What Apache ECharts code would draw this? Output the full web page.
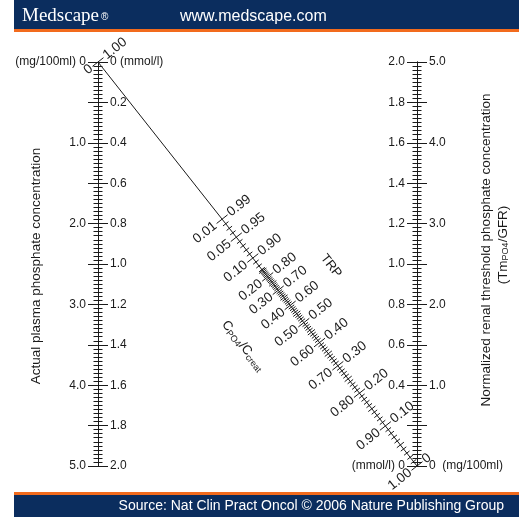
<!DOCTYPE html>
<html><head><meta charset="utf-8">
<script src="https://cdn.jsdelivr.net/npm/echarts@6/dist/echarts.min.js"></script>
<style>html,body{margin:0;padding:0;background:#fff}#c{width:519px;height:517px}</style>
</head><body><div id="c"></div>
<script>
// ---- Vertical scales (mmol/l along the axis; mg/100ml = mmol/l x 2.5) ----
const scaleMax = 2.0;
const majorStep = 0.2;
const minorSplit = 10;
const leftMmolLabels  = ['0 (mmol/l)','0.2','0.4','0.6','0.8','1.0','1.2','1.4','1.6','1.8','2.0'];
const leftMgLabels    = ['(mg/100ml) 0','','1.0','','2.0','','3.0','','4.0','','5.0'];
const rightMmolLabels = ['(mmol/l) 0','','0.4','0.6','0.8','1.0','1.2','1.4','1.6','1.8','2.0'];
const rightMgLabels   = ['0  (mg/100ml)','','1.0','','2.0','','3.0','','4.0','','5.0'];

// ---- Diagonal scale: TRP (upper side) and CPO4/Ccreat = 1 - TRP (lower side) ----
const trpMajor       = [0.99,0.95,0.90,0.80,0.70,0.60,0.50,0.40,0.30,0.20,0.10,0];
const trpMajorLabels = ['0.99','0.95','0.90','0.80','0.70','0.60','0.50','0.40','0.30','0.20','0.10','0'];
const ratioMajorLabels = ['0.01','0.05','0.10','0.20','0.30','0.40','0.50','0.60','0.70','0.80','0.90','1.00'];
const trpTickStep = 0.01, trpTickMax = 0.99;
const diagTopLabels = ['1.00','0'];

// nomogram scale of the diagonal (Walton-Bijvoet relation)
const K = 1.10;
function trpToS(t){
  if (t >= 1) return 0;
  const a = t <= 0.86 ? t : 0.3*t/(1-0.8*t);
  return 1/(1+K*a);
}

const diagData = [];
const nTicks = Math.round(trpTickMax/trpTickStep);
for (let i = 0; i <= nTicks; i++) {
  const t = +(i*trpTickStep).toFixed(2);
  const mi = trpMajor.findIndex(v => Math.abs(v-t) < 1e-6);
  const kind = mi >= 0 ? 2 : (i % 5 === 0 ? 1 : 0);
  const s = trpToS(t);
  diagData.push([s, s*scaleMax, kind, mi]);
}
diagData.push([0, 0, 3, -1]); // upper end of the diagonal

const FONT = '"Liberation Sans", Arial, sans-serif';
const INK = '#1a1a1a';

function renderDiag(params, api){
  const p = api.coord([api.value(0), api.value(1)]);
  const p0 = api.coord([0,0]), p1 = api.coord([1,scaleMax]);
  let dx = p1[0]-p0[0], dy = p1[1]-p0[1];
  const L = Math.hypot(dx,dy); dx/=L; dy/=L;
  const nx = dy, ny = -dx;
  const kind = api.value(2);
  const len = kind >= 2 ? 7 : (kind === 1 ? 4.5 : 3.5);
  const rot = Math.atan2(-ny, nx);
  const ch = [{type:'line', shape:{x1:p[0]-nx*len, y1:p[1]-ny*len, x2:p[0]+nx*len, y2:p[1]+ny*len},
    style:{stroke:INK, lineWidth:1}}];
  if (kind >= 2) {
    let up, down;
    if (kind === 3) { up = diagTopLabels[0]; down = diagTopLabels[1]; }
    else { const mi = api.value(3); up = trpMajorLabels[mi]; down = ratioMajorLabels[mi]; }
    const off = len + 1.5;
    ch.push({type:'text', x:p[0]+nx*off, y:p[1]+ny*off, rotation:rot,
      style:{text:up, font:'13.5px '+FONT, fill:INK, align:'left', verticalAlign:'middle', textAlign:'left', textVerticalAlign:'middle'}});
    ch.push({type:'text', x:p[0]-nx*off, y:p[1]-ny*off, rotation:rot,
      style:{text:down, font:'13.5px '+FONT, fill:INK, align:'right', verticalAlign:'middle', textAlign:'right', textVerticalAlign:'middle'}});
  }
  return {type:'group', children:ch};
}

function vAxis(opts){
  return Object.assign({
    type:'value', min:0, max:scaleMax, interval:majorStep,
    axisLine:{show:true, onZero:false, lineStyle:{color:INK, width:1}},
    minorTick:{show:true, splitNumber:minorSplit, length:4.5, lineStyle:{color:INK, width:1}},
    splitLine:{show:false}, minorSplitLine:{show:false}
  }, opts);
}
const idx = v => Math.round(v/majorStep);
const lbl = (inside, arr) => ({inside:inside, margin:12, color:INK, fontSize:12, fontFamily:FONT,
  showMinLabel:true, showMaxLabel:true, formatter:v=>arr[idx(v)]||''});
const tick = inside => ({show:true, inside:inside, length:10, lineStyle:{color:INK, width:1}});

const chart = echarts.init(document.getElementById('c'), null, {renderer:'canvas'});
chart.setOption({
  animation:false,
  backgroundColor:'#ffffff',
  grid:{left:98, right:102, top:62, bottom:51, outerBoundsMode:'none', containLabel:false},
  xAxis:{type:'value', min:0, max:1, show:false},
  yAxis:[
    vAxis({position:'left', inverse:true, axisTick:tick(false), axisLabel:lbl(false, leftMgLabels)}),
    vAxis({position:'left', inverse:true, axisTick:tick(true), axisLabel:lbl(true, leftMmolLabels)}),
    vAxis({position:'right', axisTick:tick(false), axisLabel:lbl(false, rightMgLabels)}),
    vAxis({position:'right', axisTick:tick(true), axisLabel:lbl(true, rightMmolLabels)})
  ],
  series:[
    {type:'line', xAxisIndex:0, yAxisIndex:0, data:[[0,0],[1,scaleMax]], symbol:'none', silent:true,
      lineStyle:{color:INK, width:1}},
    {type:'custom', xAxisIndex:0, yAxisIndex:0, data:diagData, renderItem:renderDiag, silent:true, clip:false}
  ],
  graphic:[
    {type:'rect', shape:{x:14,y:0,width:505,height:29}, style:{fill:'#0b2d5e'}},
    {type:'rect', shape:{x:14,y:29,width:505,height:3}, style:{fill:'#f26b1d'}},
    {type:'text', x:22, y:16, style:{text:'Medscape', font:'19px "Liberation Serif", "Times New Roman", serif', fill:'#fff', verticalAlign:'middle'}},
    {type:'text', x:101, y:17, style:{text:'®', font:'10px "Liberation Sans", Arial, sans-serif', fill:'#fff', verticalAlign:'middle'}},
    {type:'text', x:180, y:17, style:{text:'www.medscape.com', font:'16px '+FONT, fill:'#fff', verticalAlign:'middle'}},
    {type:'rect', shape:{x:14,y:492,width:505,height:3}, style:{fill:'#f26b1d'}},
    {type:'rect', shape:{x:14,y:495,width:505,height:22}, style:{fill:'#0b2d5e'}},
    {type:'text', x:504, y:506, style:{text:'Source: Nat Clin Pract Oncol © 2006 Nature Publishing Group', font:'14px '+FONT, fill:'#fff', align:'right', verticalAlign:'middle'}},
    {type:'text', x:36, y:266, rotation:Math.PI/2, style:{text:'Actual plasma phosphate concentration', font:'13.5px '+FONT, fill:INK, align:'center', verticalAlign:'middle'}},
    {type:'text', x:486, y:250, rotation:Math.PI/2, style:{text:'Normalized renal threshold phosphate concentration', font:'13.5px '+FONT, fill:INK, align:'center', verticalAlign:'middle'}},
    {type:'text', x:503, y:245, rotation:Math.PI/2, style:{text:'{n|(Tm}{s|PO4}{n|/GFR)}', align:'center', verticalAlign:'middle',
      rich:{n:{font:'13.5px '+FONT, fill:INK, lineHeight:16}, s:{font:'9px '+FONT, fill:INK, lineHeight:10, padding:[6,0,0,0]}}}},
    {type:'text', x:331, y:266, rotation:-Math.atan2(404,319), style:{text:'TRP', font:'13px '+FONT, fill:INK, align:'center', verticalAlign:'middle'}},
    {type:'text', x:243, y:346, rotation:-Math.atan2(404,319), style:{text:'{n|C}{s|PO4}{n|/C}{s|creat}', align:'center', verticalAlign:'middle',
      rich:{n:{font:'13px '+FONT, fill:INK, lineHeight:16}, s:{font:'9px '+FONT, fill:INK, lineHeight:10, padding:[6,0,0,0]}}}}
  ]
});
</script></body></html>
